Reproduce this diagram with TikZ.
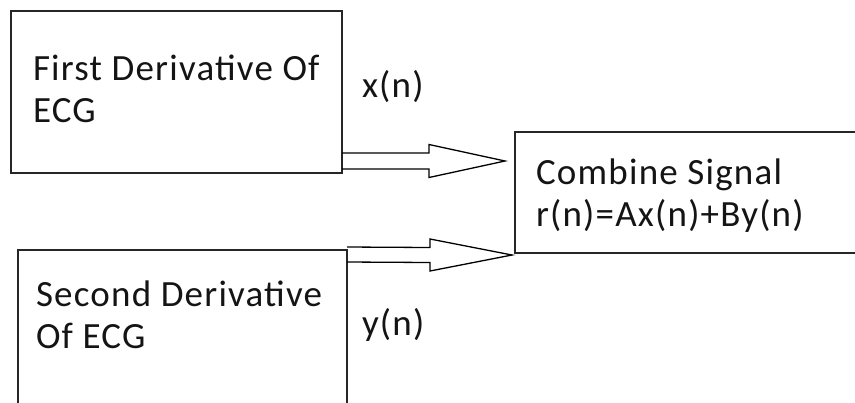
\documentclass[tikz,border=0pt]{standalone}
\usepackage{fontspec}
\setmainfont{Carlito}[LetterSpace=3.3]
\usetikzlibrary{calc}

\tikzset{
  box/.style={draw=black!85, line width=1.7bp, rectangle, anchor=north west,
              inner sep=0pt, outer sep=0pt},
  label/.style={anchor=base west, inner sep=0pt, outer sep=0pt, align=left,
                text=black!92, font=\fontsize{37bp}{42bp}\selectfont},
  blk/.style={draw=black, line width=1.3bp, line join=miter}
}

% block arrow: start point, tip, half shaft width, half head width, head length
\newcommand{\blockarrow}[5]{%
  \draw[blk] ($(#1)+(0,-#3)$) -- ($(#2)+(-#5,-#3)$) -- ($(#2)+(-#5,-#4)$)
    -- (#2) -- ($(#2)+(-#5,#4)$) -- ($(#2)+(-#5,#3)$) -- ($(#1)+(0,#3)$);}

\begin{document}
\begin{tikzpicture}[x=1bp, y=-1bp]
  \useasboundingbox (0,0) rectangle (855,402);
  \clip (0,0) rectangle (855,402);

  % the three blocks
  \node[box, minimum width=331bp, minimum height=162bp] (first) at (11,11) {};
  \node[box, minimum width=329bp, minimum height=160bp] (second) at (18,250) {};
  \node[box, minimum width=360bp, minimum height=121bp] (combine) at (515,132) {};

  % block texts (anchored at the baseline of the last line)
  \node[label] (firstText) at (33,122) {First Derivative Of\\ECG};
  \node[label] (secondText) at (36,348) {Second Derivative\\Of ECG};
  \node[label] (combineText) at (536,226) {Combine Signal\\r(n)=Ax(n)+By(n)};

  % signal names
  \node[label] (xn) at (362,97) {x(n)};
  \node[label] (yn) at (362,335) {y(n)};

  % connectors
  \coordinate (s1) at (first.east |- 0,161);
  \coordinate (t1) at ($(combine.west |- 0,161)+(-10,0)$);
  \coordinate (s2) at (second.east |- 0,254.5);
  \coordinate (t2) at ($(combine.west |- 0,255)+(-3,0)$);
  \blockarrow{s1}{t1}{8}{16.5}{76}
  \blockarrow{s2}{t2}{7.5}{16}{82}
\end{tikzpicture}
\end{document}
